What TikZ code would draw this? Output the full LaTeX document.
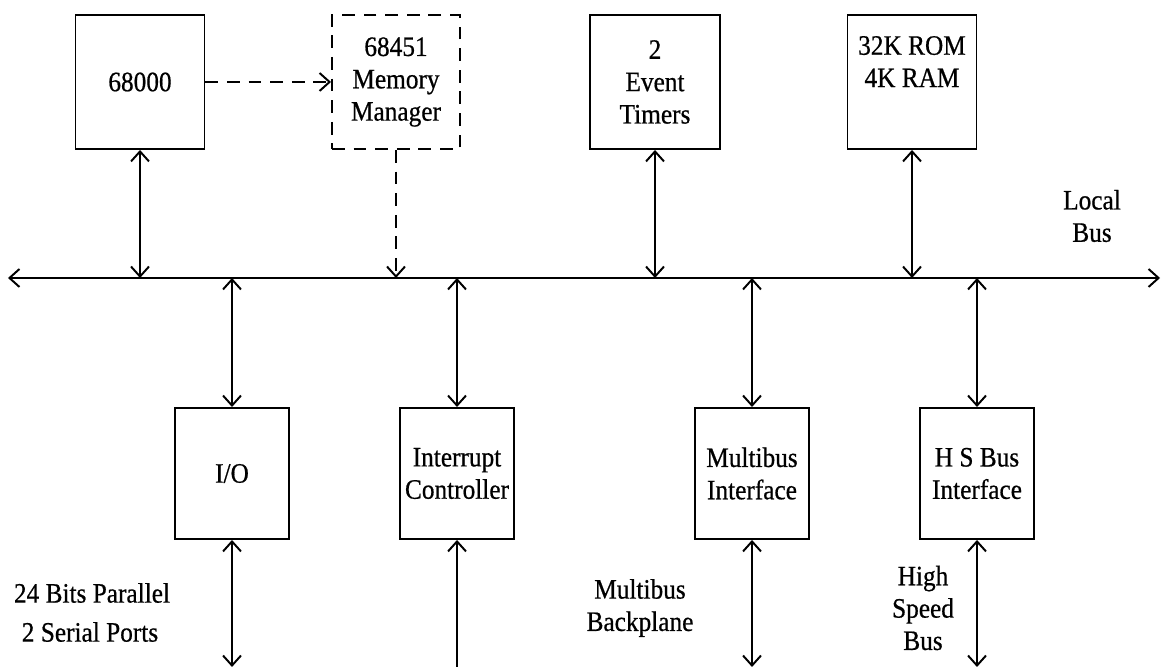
\documentclass[tikz,border=0pt]{standalone}
\usepackage{fontspec}
\setmainfont{Liberation Serif}[FakeStretch=0.9,FakeBold=0.6]
\usetikzlibrary{arrows.meta}

\begin{document}
\begin{tikzpicture}[>={Straight Barb[length=2.5mm,width=4.5mm]},
    font=\fontsize{20}{23}\selectfont,
    dashy/.style={dash pattern=on 0.32cm off 0.22cm}]
  \useasboundingbox (0,0) rectangle (29.1,16.725);
  % bus ends and free ends
  \coordinate (busL) at (0.2,9.775);
  \coordinate (busR) at (29.0,9.775);
  \coordinate (bot) at (0,0.05);
  \begin{scope}[every node/.style={rectangle,draw,line width=1.4pt,align=center,inner sep=0pt}]
    \node[minimum width=3.225cm,minimum height=3.35cm] (cpu) at (3.5,14.675) {68000};
    \node[minimum width=3.2cm,minimum height=3.35cm,dashy] (mmu) at (9.9,14.675) {68451\\Memory\\Manager};
    \node[minimum width=3.25cm,minimum height=3.35cm] (tmr) at (16.375,14.675) {2\\Event\\Timers};
    \node[minimum width=3.225cm,minimum height=3.35cm] (rom) at (22.8,14.675) {32K ROM\\4K RAM\\[6pt]\mbox{}};
    \node[minimum width=2.85cm,minimum height=3.275cm] (io) at (5.8,4.8875) {I/O};
    \node[minimum width=2.85cm,minimum height=3.275cm] (irq) at (11.425,4.8875) {Interrupt\\Controller};
    \node[minimum width=2.85cm,minimum height=3.275cm] (mbi) at (18.8,4.8875) {Multibus\\Interface};
    \node[minimum width=2.85cm,minimum height=3.275cm] (hsi) at (24.425,4.8875) {H S Bus\\Interface};
  \end{scope}
  \begin{scope}[every node/.style={align=center,inner sep=0pt}]
    \node (local) at (27.3,11.325) {Local\\Bus};
    \node (par) at (2.3,1.9) {24 Bits Parallel};
    \node (ser) at (2.25,0.925) {2 Serial Ports};
    \node (back) at (16.0,1.525) {Multibus\\Backplane};
    \node (hsb) at (23.075,1.525) {High\\Speed\\Bus};
  \end{scope}
  \begin{scope}[every edge/.style={draw=black,line width=1.4pt}]
    \path (busL) edge[<->] (busR);
    \path (cpu) edge[->,dashy] (mmu);
    \path (mmu.south) edge[->,dashy] (mmu.south |- busL);
    \path (cpu.south) edge[<->] (cpu.south |- busL);
    \path (tmr.south) edge[<->] (tmr.south |- busL);
    \path (rom.south) edge[<->] (rom.south |- busL);
    \path (io.north) edge[<->] (io.north |- busL);
    \path (irq.north) edge[<->] (irq.north |- busL);
    \path (mbi.north) edge[<->] (mbi.north |- busL);
    \path (hsi.north) edge[<->] (hsi.north |- busL);
    \path (io.south) edge[<->] (io.south |- bot);
    \path (irq.south) edge[<-] (irq.south |- bot);
    \path (mbi.south) edge[<->] (mbi.south |- bot);
    \path (hsi.south) edge[<->] (hsi.south |- bot);
  \end{scope}
\end{tikzpicture}
\end{document}
